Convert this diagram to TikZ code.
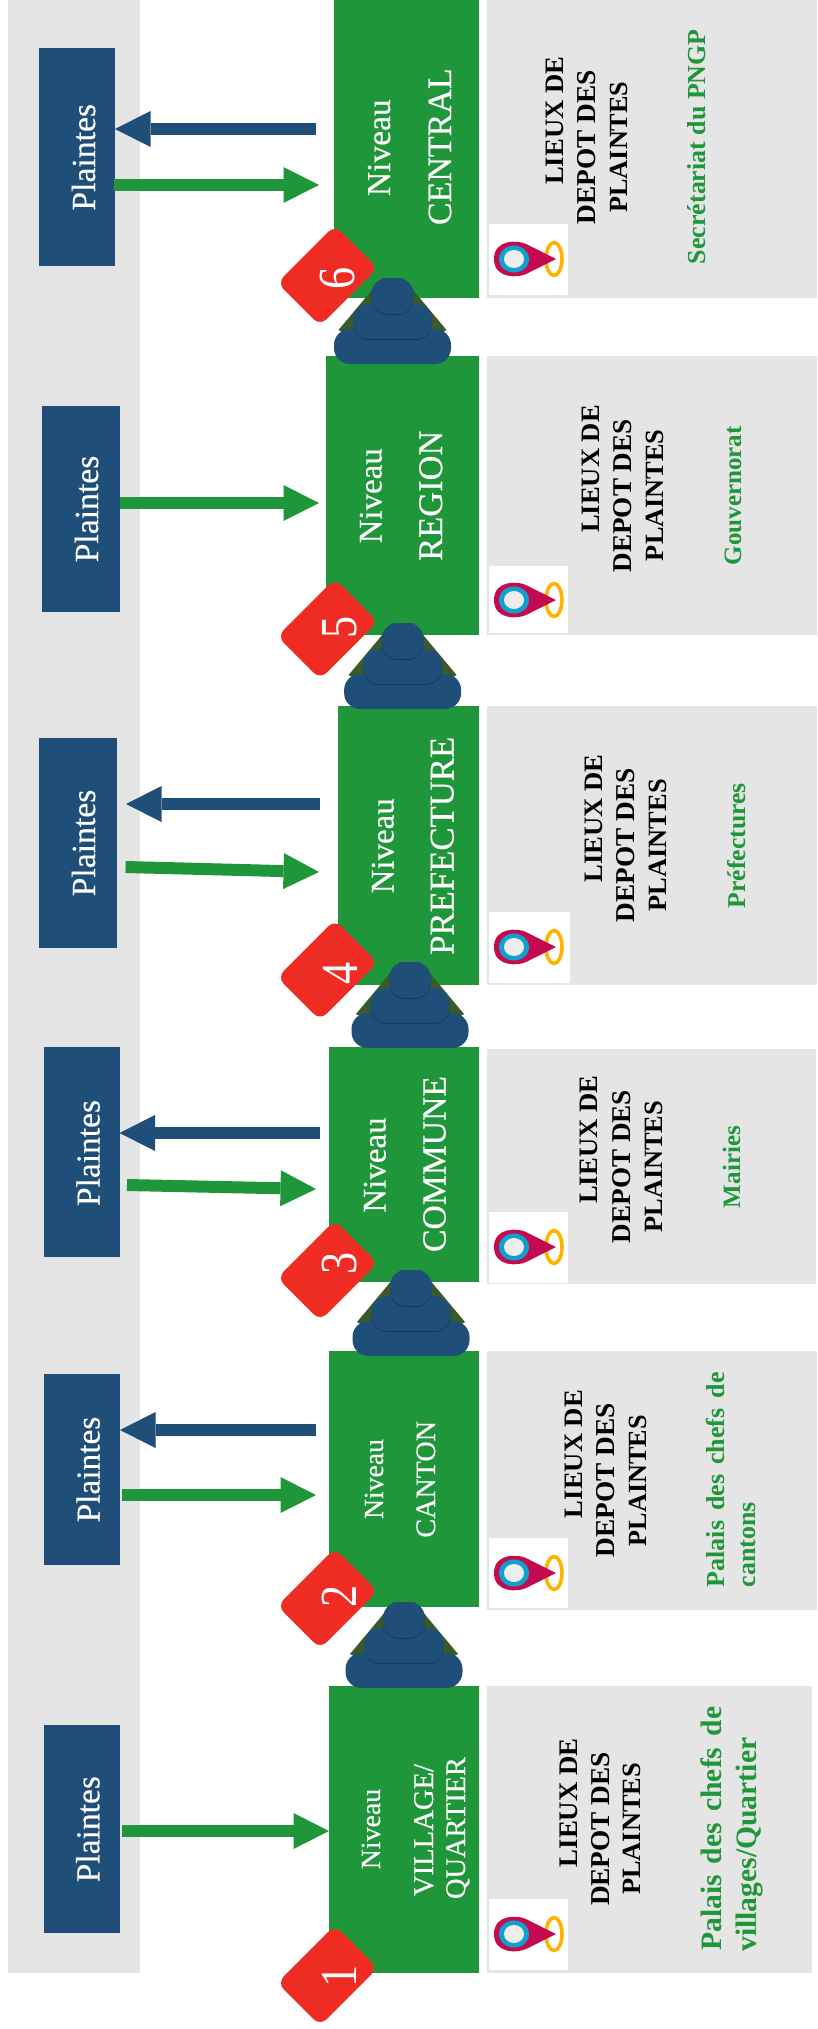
\documentclass[tikz,border=0pt]{standalone}
\usepackage{fontspec}
\setmainfont{Liberation Serif}
\newfontfamily\semifont[FakeBold=0.35]{Liberation Serif}
\usetikzlibrary{arrows.meta}
\definecolor{pgreen}{HTML}{1E9639}
\definecolor{pblue}{HTML}{1F4E79}
\definecolor{pblued}{HTML}{16375A}
\definecolor{pgray}{HTML}{E5E5E5}
\definecolor{pred}{HTML}{EE2C24}
\definecolor{pcrim}{HTML}{C50B50}
\definecolor{pring}{HTML}{0FA0CE}
\definecolor{pyel}{HTML}{FDB300}
\definecolor{ptri}{HTML}{3A5A28}
\tikzset{
  boxbase/.style={inner sep=0pt,outer sep=0pt,anchor=north west},
  graybox/.style={boxbase,fill=pgray},
  greenbox/.style={boxbase,fill=pgreen},
  bluebox/.style={boxbase,fill=pblue},
  whitebox/.style={boxbase,fill=white},
  txt/.style={inner sep=0pt,outer sep=0pt,rotate=90,anchor=base},
  wt/.style={txt,text=white,font=\semifont},
  dg/.style={txt,text=white},
  bk/.style={txt,text=black,font=\bfseries},
  gr/.style={txt,text=pgreen,font=\bfseries},
  badge/.style={fill=pred,rotate=45,rounded corners=9pt,minimum width=81.5pt,minimum height=60.5pt,inner sep=0pt,outer sep=0pt},
  arrB/.style={pblue,line width=12pt,-{Triangle[length=35.5pt,width=36pt,line width=0pt]}},
  arrG/.style={pgreen,line width=12pt,-{Triangle[length=35.5pt,width=36pt,line width=0pt]}},
}
\newcommand{\bx}[6]{%
  \pgfmathsetmacro\bxw{#5-#3}\pgfmathsetmacro\bxh{#6-#4}%
  \node[#2,minimum width=\bxw pt,minimum height=\bxh pt] (#1) at (#3,#4) {};}
\newcommand{\tx}[6]{\node[#5] (#1) at (#2,#3) {\resizebox{#4pt}{!}{\fontsize{30}{32}\selectfont #6}};}
\newcommand{\arr}[4]{\coordinate (#1s) at (#3); \coordinate (#1e) at (#4); \draw[#2] (#1s) -- (#1e);}
\newcommand{\dgt}[4]{\node[dg] (#1) at (#2,#3) {\scalebox{.85}[1]{\fontsize{52}{54}\selectfont #4}};}
\newcommand{\pin}[2]{%
  \begin{scope}[shift={(514,#2)}]
  \draw[pyel,line width=3.6pt] (40,0) ellipse [x radius=8,y radius=16.5];
  \fill[pcrim] (42,0) -- (12,-15) .. controls (4,-19) and (-20,-20) .. (-20,0) .. controls (-20,20) and (4,19) .. (12,15) -- cycle;
  \fill[pring] (0,0) ellipse [x radius=15,y radius=13.5];
  \fill[black!7] (0,0) ellipse [x radius=10,y radius=9];
  \end{scope}}
\newcommand{\pyr}[2]{%
  \fill[ptri] ({#1-10.5},#2) -- ({#1+10.5},#2) -- ({#1+54},{#2+52}) -- ({#1+40},{#2+60}) -- ({#1-40},{#2+60}) -- ({#1-54},{#2+52}) -- cycle;
  \fill[pblue,rounded corners=16pt] ({#1-58.5},{#2+51}) rectangle ({#1+58.5},{#2+86});
  \fill[pblued,rounded corners=16pt] ({#1-39.5},{#2+27}) rectangle ({#1+39.5},{#2+62});
  \fill[pblue,rounded corners=16pt] ({#1-39.5},{#2+26}) rectangle ({#1+39.5},{#2+61});
  \fill[pblued,rounded corners=16pt] ({#1-21},{#2+1}) rectangle ({#1+21},{#2+37});
  \fill[pblue,rounded corners=16pt] ({#1-21},#2) rectangle ({#1+21},{#2+36});}
\begin{document}
\begin{tikzpicture}[x=1pt,y=-1pt]
\useasboundingbox (0,0) rectangle (817,2029);
\fill[white] (0,0) rectangle (817,2029);
% left strip
\bx{strip}{graybox}{8}{0}{140}{1973}
% gray panels
\bx{g6}{graybox}{487}{0}{817}{298}
\bx{g5}{graybox}{487}{356}{817}{635}
\bx{g4}{graybox}{487}{706}{817}{985}
\bx{g3}{graybox}{487}{1049}{816}{1284}
\bx{g2}{graybox}{487}{1351}{817}{1610}
\bx{g1}{graybox}{487}{1686}{812}{1973}
% green level boxes
\bx{n6}{greenbox}{334}{0}{479}{298}
\bx{n5}{greenbox}{326}{356}{479}{635}
\bx{n4}{greenbox}{338}{706}{479}{985}
\bx{n3}{greenbox}{329}{1047}{479}{1282}
\bx{n2}{greenbox}{329}{1351}{479}{1607}
\bx{n1}{greenbox}{329}{1686}{479}{1973}
% plaintes boxes
\bx{p6}{bluebox}{39}{48}{115}{266}
\bx{p5}{bluebox}{42}{406}{120}{612}
\bx{p4}{bluebox}{39}{738}{117}{948}
\bx{p3}{bluebox}{44}{1047}{120}{1257}
\bx{p2}{bluebox}{44}{1374}{120}{1565}
\bx{p1}{bluebox}{44}{1725}{120}{1933}
% arrows
\arr{a6b}{arrB}{316,129}{115,129}
\arr{a6g}{arrG}{114,185}{319,185}
\arr{a5g}{arrG}{120,503}{319,503}
\arr{a4b}{arrB}{319.5,804}{126,804}
\arr{a4g}{arrG}{125.6,867}{319,872}
\arr{a3b}{arrB}{319.5,1133}{119.5,1133}
\arr{a3g}{arrG}{127,1185}{316,1189}
\arr{a2b}{arrB}{316,1430}{120,1430}
\arr{a2g}{arrG}{121.5,1495}{316,1495}
\arr{a1g}{arrG}{122,1831}{329,1831}
% pin boxes
\bx{w6}{whitebox}{489}{224}{568}{295}
\bx{w5}{whitebox}{489}{566}{568}{633}
\bx{w4}{whitebox}{489}{912}{570}{983}
\bx{w3}{whitebox}{489}{1212}{568}{1283}
\bx{w2}{whitebox}{489}{1538}{568}{1608}
\bx{w1}{whitebox}{489}{1899}{568}{1970}
\pin{w6}{259}
\pin{w5}{600}
\pin{w4}{947}
\pin{w3}{1247}
\pin{w2}{1573}
\pin{w1}{1934}
% texts: central
\tx{t6a}{95}{157.3}{106.7}{wt}{Plaintes}
\tx{t6b}{390}{147.7}{96.7}{wt}{Niveau}
\tx{t6c}{451}{146.7}{156.7}{wt}{CENTRAL}
\tx{t6d}{563}{120.8}{128}{bk}{LIEUX DE}
\tx{t6e}{595}{147}{154}{bk}{DEPOT DES}
\tx{t6f}{627}{147}{131}{bk}{PLAINTES}
\tx{t6g}{705}{146.7}{234.7}{gr}{Secrétariat du PNGP}
% region
\tx{t5a}{98}{509}{106.7}{wt}{Plaintes}
\tx{t5b}{381.5}{495.8}{95}{wt}{Niveau}
\tx{t5c}{442}{495.7}{130}{wt}{REGION}
\tx{t5d}{599}{469}{127.7}{bk}{LIEUX DE}
\tx{t5e}{631.6}{495.8}{153}{bk}{DEPOT DES}
\tx{t5f}{663}{495.2}{131.7}{bk}{PLAINTES}
\tx{t5g}{741}{495.7}{139}{gr}{Gouvernorat}
% prefecture
\tx{t4a}{95}{843}{106.7}{wt}{Plaintes}
\tx{t4b}{393.5}{845.8}{95}{wt}{Niveau}
\tx{t4c}{453.5}{845.8}{218}{wt}{PREFECTURE}
\tx{t4d}{602.5}{818.5}{128}{bk}{LIEUX DE}
\tx{t4e}{634.7}{845.2}{153.7}{bk}{DEPOT DES}
\tx{t4f}{666.5}{845.3}{132}{bk}{PLAINTES}
\tx{t4g}{745}{845.8}{125}{gr}{Préfectures}
% commune
\tx{t3a}{99.5}{1153}{106}{wt}{Plaintes}
\tx{t3b}{385.6}{1165}{95.3}{wt}{Niveau}
\tx{t3c}{445.5}{1164}{176}{wt}{COMMUNE}
\tx{t3d}{597.7}{1139.8}{128}{bk}{LIEUX DE}
\tx{t3e}{630}{1166.7}{153}{bk}{DEPOT DES}
\tx{t3f}{662.3}{1166.7}{132}{bk}{PLAINTES}
\tx{t3g}{740}{1167}{82}{gr}{Mairies}
% canton
\tx{t2a}{99.5}{1469.5}{105.7}{wt}{Plaintes}
\tx{t2b}{383}{1479}{80}{wt}{Niveau}
\tx{t2c}{435}{1479.3}{116.7}{wt}{CANTON}
\tx{t2d}{582}{1454}{128}{bk}{LIEUX DE}
\tx{t2e}{614.4}{1480}{154}{bk}{DEPOT DES}
\tx{t2f}{646.7}{1480.5}{131}{bk}{PLAINTES}
\node[gr] (t2g) at (724.3,1479.8) {\fontsize{26}{28}\selectfont\makebox[215pt][s]{Palais\hfill des\hfill chefs\hfill de}};
\tx{t2h}{755.6}{1544.8}{85}{gr}{cantons}
% village
\tx{t1a}{99.3}{1829.2}{106.3}{wt}{Plaintes}
\tx{t1b}{380}{1829}{80.3}{wt}{Niveau}
\tx{t1c}{433}{1830}{132}{wt}{VILLAGE/}
\tx{t1d}{465}{1828}{142}{wt}{QUARTIER}
\tx{t1e}{577}{1802.8}{129}{bk}{LIEUX DE}
\tx{t1f}{609}{1829}{153.7}{bk}{DEPOT DES}
\tx{t1g}{640.8}{1828.8}{132}{bk}{PLAINTES}
\node[gr] (t1h) at (721,1828.8) {\fontsize{29.6}{32}\selectfont\makebox[244pt][s]{Palais\hfill des\hfill chefs\hfill de}};
\tx{t1i}{756.6}{1844.7}{214}{gr}{villages/Quartier}
% badges
\node[badge] (b6) at (327.5,275.5) {};
\node[badge] (b5) at (327.5,629) {};
\node[badge] (b4) at (327.5,970) {};
\node[badge] (b3) at (327.5,1270.5) {};
\node[badge] (b2) at (327.5,1598.5) {};
\node[badge] (b1) at (327.5,1975.5) {};
\dgt{d6}{354}{278}{6}
\dgt{d5}{356}{627}{5}
\dgt{d4}{357}{973}{4}
\dgt{d3}{356}{1263}{3}
\dgt{d2}{356}{1596}{2}
\dgt{d1}{356}{1976}{1}
% pyramids
\pyr{392.5}{278}
\pyr{402.6}{623}
\pyr{410}{962}
\pyr{411}{1270}
\pyr{404}{1602}
\end{tikzpicture}
\end{document}
